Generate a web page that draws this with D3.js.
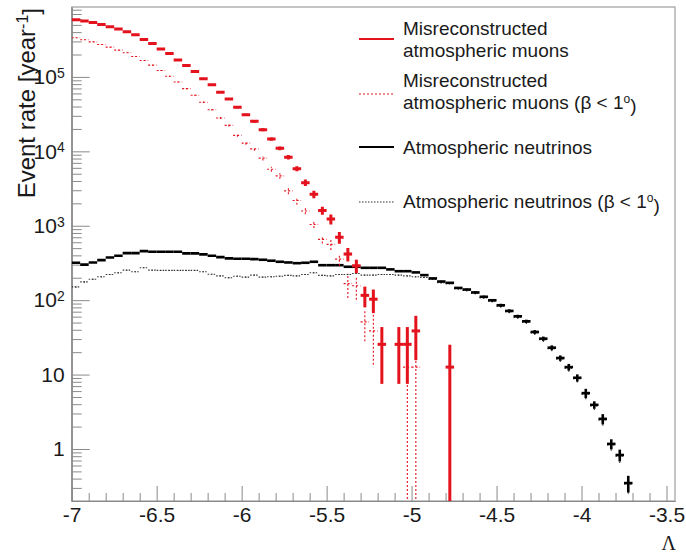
<!DOCTYPE html>
<html>
<head>
<meta charset="utf-8">
<script src="https://cdn.jsdelivr.net/npm/d3@7"></script>
<style>
  body { margin: 0; background: #fff; }
  text { font-family: "Liberation Sans", Arial, Helvetica, sans-serif; fill: #1a1a1a; }
</style>
</head>
<body>
<div class="chart"></div>
<script>
// Histogram binning: 0.05 wide bins starting at Lambda = -7
var binStart = -7;
var binWidth = 0.05;

// Misreconstructed atmospheric muons (null = empty bin)
var muonRate = [5.87e5, 5.63e5, 5.40e5, 5.07e5, 4.72e5, 4.40e5, 4.04e5, 3.68e5, 3.18e5, 2.81e5,
  2.38e5, 2.06e5, 1.69e5, 1.42e5, 1.18e5, 9.48e4, 7.87e4, 6.22e4, 5.05e4, 3.91e4,
  3.10e4, 2.53e4, 1.95e4, 1.46e4, 1.10e4, 8350, 5850, 3790, 2650, 1600,
  1230, 698, 416, 290, 116, 103, 25.5, null, 25.5, 25.5,
  38.6, null, null, null, 12.6];
var muonErr = [5000, 5000, 4900, 4800, 4600, 4400, 4200, 4000, 3700, 3500,
  3200, 3000, 2700, 2500, 2300, 2000, 1800, 1600, 1400, 1250,
  1100, 1000, 850, 740, 640, 560, 470, 380, 300, 200,
  190, 125, 85, 60, 36, 36, 18, null, 18, 18,
  23, null, null, null, 12.6];

// Misreconstructed atmospheric muons, beta < 1 deg
var muonCutRate = [3.36e5, 3.16e5, 2.96e5, 2.73e5, 2.51e5, 2.29e5, 2.11e5, 1.88e5, 1.66e5, 1.44e5,
  1.22e5, 1.02e5, 8.56e4, 6.96e4, 5.66e4, 4.56e4, 3.62e4, 2.80e4, 2.23e4, 1.64e4,
  1.29e4, 1.08e4, 8100, 5750, 4680, 2940, 2180, 1580, 1040, 656,
  561, 356, 167, 156, 51, 38.6, null, null, null, 12.6,
  12.6];
var muonCutErr = [2500, 2400, 2300, 2200, 2100, 2000, 1900, 1800, 1700, 1600,
  1500, 1400, 1300, 1200, 1100, 1000, 900, 900, 800, 700,
  650, 600, 550, 450, 400, 300, 260, 150, 110, 80,
  90, 65, 60, 55, 23, 25, null, null, null, 12.6,
  12.6];

// Atmospheric neutrinos
var nuRate = [318, 300, 321, 345, 375, 395, 429, 429, 456, 448,
  448, 448, 448, 425, 425, 412, 395, 379, 364, 360,
  360, 356, 349, 339, 328, 321, 314, 318, 328, 295,
  295, 295, 281, 281, 272, 272, 272, 259, 245, 245,
  236, 217, 196, 178, 171, 146, 139, 127, 111, 99.7,
  85.4, 71.7, 60.7, 52, 37.4, 30.4, 23, 16.7, 12.6, 9.06,
  5.63, 3.92, 2.54, 1.17, 0.83, 0.348];
var nuErr = [5, 5, 5, 5, 5, 5, 6, 6, 6, 6,
  6, 6, 6, 6, 6, 6, 5, 5, 5, 5,
  5, 5, 5, 5, 5, 5, 5, 5, 5, 5,
  5, 5, 5, 5, 5, 5, 5, 4, 4, 4,
  4, 4, 4, 4, 4, 4, 4, 4, 4, 4,
  4, 3.5, 3, 2.7, 2.2, 2, 1.7, 1.4, 1.3, 1.0,
  0.8, 0.45, 0.4, 0.18, 0.15, 0.088];

// Atmospheric neutrinos, beta < 1 deg
var nuCutRate = [151, 176, 191, 206, 221, 233, 253, 241, 272, 253,
  251, 251, 251, 251, 251, 241, 223, 212, 200, 210,
  204, 217, 204, 206, 210, 215, 212, 221, 233, 215,
  212, 221, 221, 228, 217, 217, 221, 221, 217, 212,
  206, 202, 190, 171, 167, 142, 135, 123, 108, 97,
  83, 70, 59, 50.5, 36.3, 29.5, 22.3, 16.2, 12.2, 8.8,
  5.46, 3.8, 2.46, 1.13, 0.8, 0.338];
var nuCutErr = [4, 4, 4, 4, 4, 4, 4, 4, 4, 4,
  4, 4, 4, 4, 4, 4, 4, 4, 4, 4,
  4, 4, 4, 4, 4, 4, 4, 4, 4, 4,
  4, 4, 4, 4, 4, 4, 4, 4, 4, 4,
  4, 4, 4, 4, 4, 4, 4, 4, 4, 4,
  4, 3.5, 3, 2.7, 2.2, 2, 1.7, 1.4, 1.3, 1.0,
  0.8, 0.45, 0.4, 0.18, 0.15, 0.088];

// Axis ticks
var xMajorTicks = [-7, -6.5, -6, -5.5, -5, -4.5, -4, -3.5];
var yMajorTicks = [1, 10, 100, 1000, 1e4, 1e5];
var yTickBase = ["1", "10", "10", "10", "10", "10"];
var yTickExp = ["", "", "2", "3", "4", "5"];

// Legend entries
var legendLines1 = ["Misreconstructed", "Misreconstructed", "Atmospheric neutrinos", "Atmospheric neutrinos (\u03b2 < 1"];
var legendLines2 = ["atmospheric muons", "atmospheric muons (\u03b2 < 1", "", ""];

// Step 0: chart setup
var svgWidth = 686;
var svgHeight = 555;
var margin = { top: 7, right: 11, bottom: 54, left: 71.7 };
var width = svgWidth - margin.left - margin.right;
var height = svgHeight - margin.top - margin.bottom;

var red = "#e3121c";
var axisColor = "#8a8a8a";

var svg = d3.select(".chart").append("svg")
  .attr("width", svgWidth)
  .attr("height", svgHeight);

var chart = svg.append("g")
  .attr("transform", "translate(" + margin.left + "," + margin.top + ")");

var xScale = d3.scaleLinear().domain([-7, -3.45]).range([0, width]);
var yScale = d3.scaleLog().domain([0.2, 8.7e5]).range([height, 0]);

// clip the data to the frame
chart.append("clipPath").attr("id", "plotclip")
  .append("rect").attr("width", width).attr("height", height);

// frame
chart.append("rect")
  .attr("width", width)
  .attr("height", height)
  .attr("fill", "none")
  .attr("stroke", axisColor)
  .attr("stroke-width", 1);

// Step 1: axes
var xMinor = d3.range(-69, -34).map(function(i) { return i / 10; })
  .filter(function(v) { return Math.abs(v * 2 - Math.round(v * 2)) > 1e-6; });

var yMinor = [];
[0.1, 1, 10, 100, 1000, 1e4, 1e5].forEach(function(dec) {
  for (var m = 2; m <= 9; m++) {
    var v = m * dec;
    if (v >= 0.2 && v <= 8.7e5) yMinor.push(v);
  }
});

var xAxisG = chart.append("g")
  .attr("class", "x-axis")
  .attr("transform", "translate(0," + height + ")")
  .call(d3.axisBottom(xScale).tickValues(xMajorTicks).tickSize(-15).tickSizeOuter(0).tickPadding(6)
    .tickFormat(function(d) { return String(d); }));

chart.append("g")
  .attr("transform", "translate(0," + height + ")")
  .call(d3.axisBottom(xScale).tickValues(xMinor).tickSize(-8).tickSizeOuter(0).tickFormat(""));

var yAxisG = chart.append("g")
  .attr("class", "y-axis")
  .call(d3.axisLeft(yScale).tickValues(yMajorTicks).tickSize(-18).tickSizeOuter(0).tickPadding(7)
    .tickFormat(""));

chart.append("g")
  .call(d3.axisLeft(yScale).tickValues(yMinor).tickSize(-10).tickSizeOuter(0).tickFormat(""));

chart.selectAll(".domain, .tick line").attr("stroke", axisColor);
xAxisG.selectAll("text").style("font-size", "21px").attr("fill", "#1a1a1a")
  .attr("font-family", "Liberation Sans, Arial, sans-serif");

// y tick labels with superscript exponents
yAxisG.selectAll(".tick text").each(function(d, i) {
  var t = d3.select(this)
    .style("font-size", "21px")
    .attr("fill", "#1a1a1a")
    .attr("font-family", "Liberation Sans, Arial, sans-serif");
  t.text(null);
  t.append("tspan").text(yTickBase[i]);
  if (yTickExp[i]) {
    t.append("tspan").attr("dy", "-0.45em").style("font-size", "14px").text(yTickExp[i]);
  }
});

// axis titles
svg.append("text")
  .attr("transform", "rotate(-90)")
  .attr("x", -8)
  .attr("y", 35)
  .attr("text-anchor", "end")
  .style("font-size", "24px")
  .call(function(t) {
    t.append("tspan").text("Event rate [year");
    t.append("tspan").attr("dy", "-0.45em").style("font-size", "16px").text("-1");
    t.append("tspan").attr("dy", "0.45em").text("]");
  });

svg.append("text")
  .attr("x", 676)
  .attr("y", 550)
  .attr("text-anchor", "end")
  .style("font-family", "'Liberation Serif', 'DejaVu Serif', serif")
  .style("font-size", "20px")
  .text("\u039b");

// Step 2: histograms with error bars
function toBins(values, errors) {
  var bins = [];
  values.forEach(function(v, i) {
    if (v === null) return;
    bins.push({ lo: binStart + i * binWidth, hi: binStart + (i + 1) * binWidth, v: v, e: errors[i] });
  });
  return bins;
}

function drawHist(values, errors, color, lineWidth, dash) {
  var g = chart.append("g").attr("clip-path", "url(#plotclip)");
  var bins = toBins(values, errors);
  g.selectAll(".hbar").data(bins).enter().append("line")
    .attr("x1", function(d) { return xScale(d.lo); })
    .attr("x2", function(d) { return xScale(d.hi); })
    .attr("y1", function(d) { return yScale(d.v); })
    .attr("y2", function(d) { return yScale(d.v); })
    .attr("stroke", color)
    .attr("stroke-width", lineWidth)
    .attr("stroke-dasharray", dash);
  g.selectAll(".vbar").data(bins).enter().append("line")
    .attr("x1", function(d) { return xScale((d.lo + d.hi) / 2); })
    .attr("x2", function(d) { return xScale((d.lo + d.hi) / 2); })
    .attr("y1", function(d) { return d.v - d.e > 0.2 ? yScale(d.v - d.e) : height + 2; })
    .attr("y2", function(d) { return yScale(d.v + d.e); })
    .attr("stroke", color)
    .attr("stroke-width", lineWidth)
    .attr("stroke-dasharray", dash);
}

drawHist(nuCutRate, nuCutErr, "#333", 1.1, "1.5,1.5");
drawHist(nuRate, nuErr, "#000", 2.6, null);
drawHist(muonCutRate, muonCutErr, red, 1.1, "2,2");
drawHist(muonRate, muonErr, red, 3, null);

// Step 3: legend
var legendStyles = [
  { color: red, w: 2, dash: null, lineY: 39, y1: 35, y2: 56.5 },
  { color: red, w: 1.1, dash: "2,2", lineY: 94, y1: 87, y2: 108.5 },
  { color: "#000", w: 2, dash: null, lineY: 147, y1: 154, y2: null },
  { color: "#333", w: 1.1, dash: "1.5,1.5", lineY: 202, y1: 208, y2: null }
];

var legend = svg.append("g").attr("class", "legend");
legendStyles.forEach(function(s, i) {
  legend.append("line")
    .attr("x1", 359).attr("x2", 394)
    .attr("y1", s.lineY).attr("y2", s.lineY)
    .attr("stroke", s.color)
    .attr("stroke-width", s.w)
    .attr("stroke-dasharray", s.dash);

  var lines = [[legendLines1[i], s.y1], [legendLines2[i], s.y2]];
  lines.forEach(function(l) {
    if (!l[0]) return;
    var t = legend.append("text")
      .attr("x", 403)
      .attr("y", l[1])
      .style("font-size", "19px");
    t.append("tspan").text(l[0]);
    if (l[0].indexOf("\u03b2") >= 0) {
      t.append("tspan").attr("dy", "-0.5em").style("font-size", "12px").text("o");
      t.append("tspan").attr("dy", "0.5em").text(")");
    }
  });
});
</script>
</body>
</html>
